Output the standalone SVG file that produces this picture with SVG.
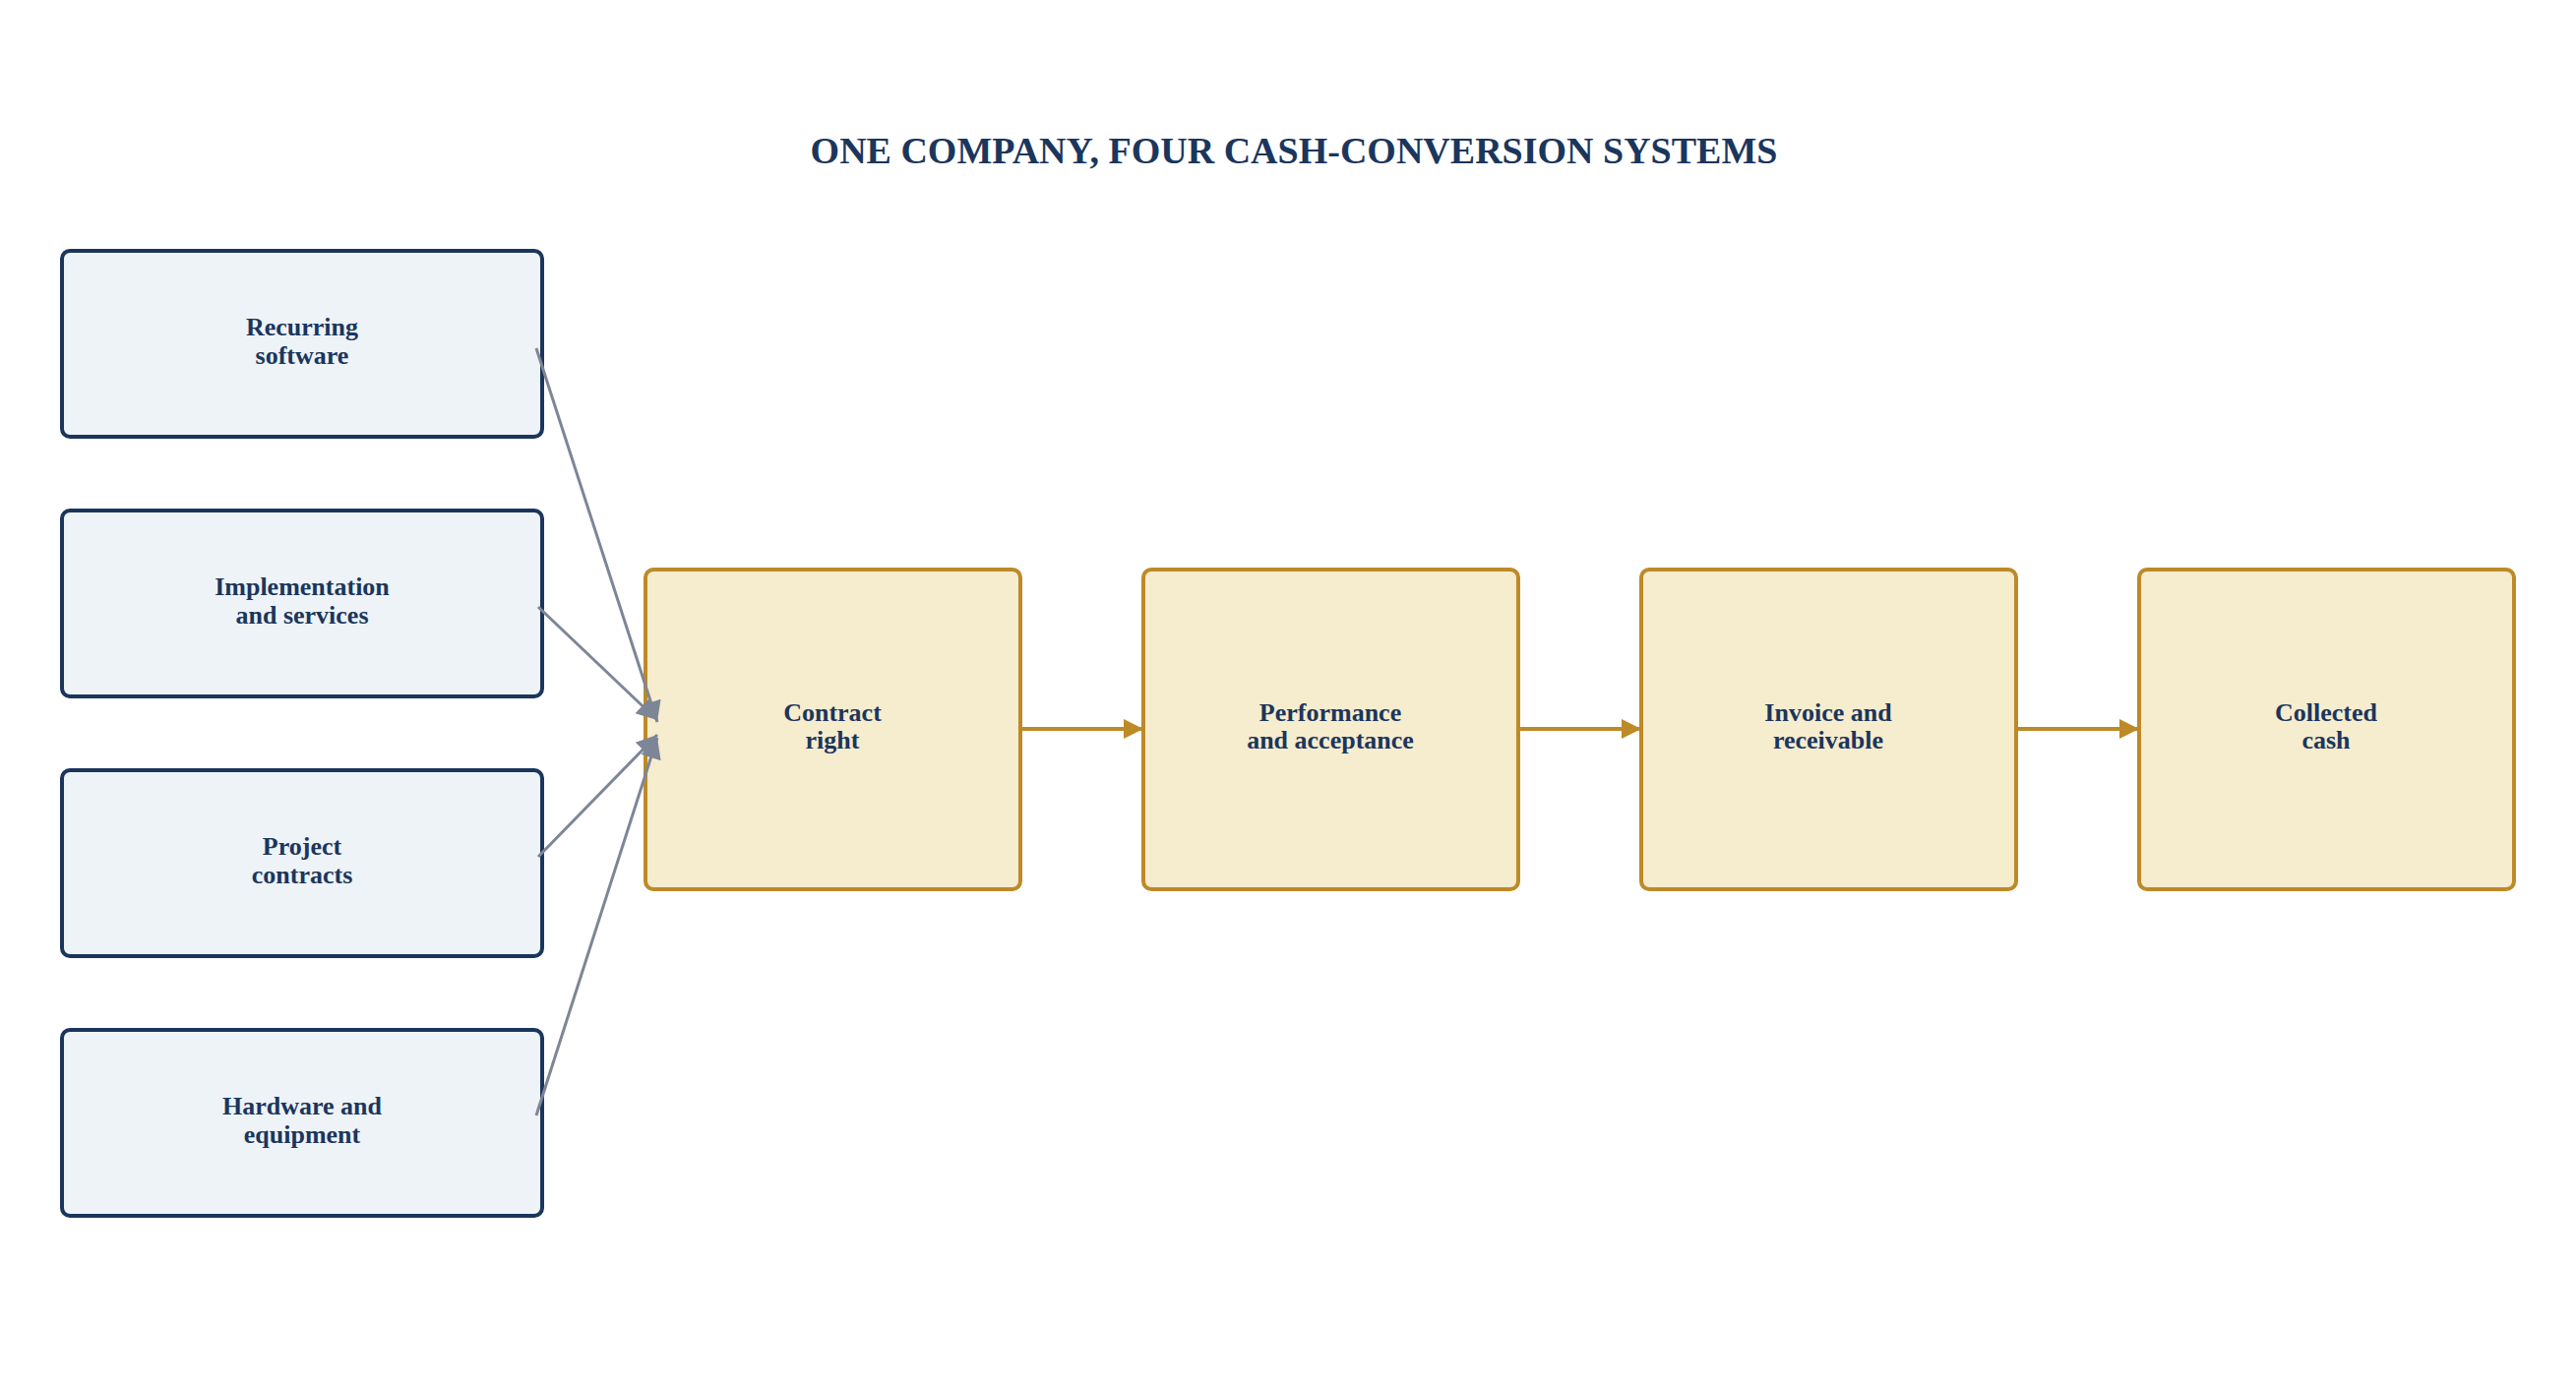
<svg xmlns="http://www.w3.org/2000/svg" width="2618" height="1408" viewBox="0 0 2618 1408">
<style>
.src rect{fill:#eef3f8;stroke:#1b365d;stroke-width:4}
.stg rect{fill:#f6ecce;stroke:#bd8a28;stroke-width:4}
text{font-family:"Liberation Serif",serif;font-weight:bold;fill:#1b365d;text-anchor:middle}
.lbl{font-size:26px}
.g{stroke:#7d8696;stroke-width:3;fill:none}
.o{stroke:#bd8a28;stroke-width:4;fill:none}
</style>
<defs>
<marker id="ag" viewBox="0 0 10 10" refX="9" refY="5" markerWidth="7" markerHeight="7" orient="auto" markerUnits="userSpaceOnUse" style="overflow:visible"><path d="M0,0L10,5L0,10z" fill="#7d8696" transform="scale(2.4) translate(-5,-5) translate(5,5)"/></marker>
<marker id="ao" viewBox="0 0 10 10" refX="10" refY="5" markerWidth="6" markerHeight="5" orient="auto"><path d="M0,0L10,5L0,10z" fill="#bd8a28"/></marker>
<marker id="ag2" viewBox="0 0 10 10" refX="10" refY="5" markerWidth="8" markerHeight="7" orient="auto"><path d="M0,0L10,5L0,10z" fill="#7d8696"/></marker>
</defs>
<rect width="2618" height="1408" fill="#fff"/>
<text x="1315" y="166" font-size="38">ONE COMPANY, FOUR CASH-CONVERSION SYSTEMS</text>
<g id="recurring" class="src"><rect x="63" y="255" width="488" height="189" rx="8"/><text class="lbl" x="307" y="341">Recurring</text><text class="lbl" x="307" y="370">software</text></g>
<g id="implementation" class="src"><rect x="63" y="519" width="488" height="189" rx="8"/><text class="lbl" x="307" y="605">Implementation</text><text class="lbl" x="307" y="634">and services</text></g>
<g id="project" class="src"><rect x="63" y="783" width="488" height="189" rx="8"/><text class="lbl" x="307" y="869">Project</text><text class="lbl" x="307" y="898">contracts</text></g>
<g id="hardware" class="src"><rect x="63" y="1047" width="488" height="189" rx="8"/><text class="lbl" x="307" y="1133">Hardware and</text><text class="lbl" x="307" y="1162">equipment</text></g>
<g id="contract" class="stg"><rect x="656" y="579" width="381" height="325" rx="8"/><text class="lbl" x="846" y="733">Contract</text><text class="lbl" x="846" y="761">right</text></g>
<g id="performance" class="stg"><rect x="1162" y="579" width="381" height="325" rx="8"/><text class="lbl" x="1352" y="733">Performance</text><text class="lbl" x="1352" y="761">and acceptance</text></g>
<g id="invoice" class="stg"><rect x="1668" y="579" width="381" height="325" rx="8"/><text class="lbl" x="1858" y="733">Invoice and</text><text class="lbl" x="1858" y="761">receivable</text></g>
<g id="cash" class="stg"><rect x="2174" y="579" width="381" height="325" rx="8"/><text class="lbl" x="2364" y="733">Collected</text><text class="lbl" x="2364" y="761">cash</text></g>
<g id="connectors">
<path class="g" d="M545,354L668,734" marker-end="url(#ag2)"/>
<path class="g" d="M547,617L668,732" marker-end="url(#ag2)"/>
<path class="g" d="M547,871L668,747" marker-end="url(#ag2)"/>
<path class="g" d="M545,1134L668,750" marker-end="url(#ag2)"/>
<path class="o" d="M1035,741L1162,741" marker-end="url(#ao)"/>
<path class="o" d="M1541,741L1668,741" marker-end="url(#ao)"/>
<path class="o" d="M2047,741L2174,741" marker-end="url(#ao)"/>
</g>
</svg>
